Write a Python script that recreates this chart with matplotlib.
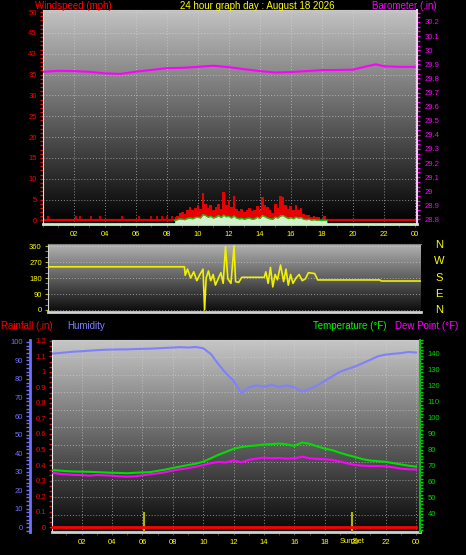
"""
24 hour weather graph: wind, barometer, wind direction, rain, humidity,
temperature and dew point, drawn in the style of a station web page.
"""
import numpy as np
import matplotlib
matplotlib.use("Agg")
import matplotlib.pyplot as plt
from matplotlib.ticker import MultipleLocator, FixedLocator

plt.rcParams['font.family'] = ['Liberation Sans', 'DejaVu Sans']

W, H = 466, 555

TITLE = "24 hour graph day : August 18 2026"
hour_ticks = [2, 4, 6, 8, 10, 12, 14, 16, 18, 20, 22, 24]
hour_labels = ["02", "04", "06", "08", "10", "12", "14", "16", "18", "20", "22", "00"]

# barometer (in)
baro_hours = [0, 1, 2, 3, 4, 5, 6, 7, 8, 9, 10, 11, 12, 13, 14, 15, 16, 17,
              18, 19, 20, 21, 21.5, 22, 23, 24]
baro_inhg = [29.847, 29.854, 29.852, 29.847, 29.836, 29.832, 29.848, 29.860,
             29.873, 29.875, 29.882, 29.890, 29.880, 29.865, 29.852, 29.842,
             29.845, 29.852, 29.859, 29.860, 29.862, 29.888, 29.900, 29.886,
             29.882, 29.882]
baro_ticks = [28.8, 28.9, 29.0, 29.1, 29.2, 29.3, 29.4, 29.5, 29.6, 29.7,
              29.8, 29.9, 30.0, 30.1, 30.2]
baro_labels = ["28.8", "28.9", "29", "29.1", "29.2", "29.3", "29.4", "29.5",
               "29.6", "29.7", "29.8", "29.9", "30", "30.1", "30.2"]

# wind (mph), 10 minute samples from 08:30
gust_mph = [0.8, 1.0, 1.8, 2.0, 1.6, 2.4,
            3.2, 2.4, 3.0, 3.6, 2.8, 6.6,
            4.0, 3.0, 3.6, 2.4, 3.2, 4.0,
            2.8, 6.8, 3.6, 4.8, 3.2, 5.8,
            2.8, 2.2, 2.8, 2.0, 2.6, 3.0,
            2.2, 2.4, 3.4, 2.6, 5.6, 3.8,
            3.2, 2.4, 1.8, 4.0, 3.0, 5.8,
            5.6, 3.6, 2.8, 3.4, 2.4, 3.6,
            2.4, 3.0, 1.6, 1.2, 1.4, 0.8,
            1.0, 0.8, 0.8, 0.4, 1.0, 0.0]
avg_mph = [0.0, 0.2, 0.4, 0.3, 0.2, 0.5,
           0.6, 0.4, 0.7, 0.8, 0.6, 1.4,
           1.2, 0.8, 1.0, 0.6, 0.8, 1.2,
           0.7, 1.3, 0.9, 1.0, 0.6, 1.1,
           0.6, 0.4, 0.5, 0.3, 0.5, 0.6,
           0.3, 0.4, 0.8, 0.5, 1.2, 0.9,
           0.6, 0.4, 0.3, 0.8, 0.6, 1.1,
           1.2, 0.8, 0.5, 0.7, 0.4, 0.8,
           0.6, 0.7, 0.3, 0.2, 0.3, 0.1,
           0.2, 0.1, 0.1, 0.0, 0.1, 0.0]
gust_hours = 8.5 + np.arange(len(gust_mph)) / 6
# single gusts during the calm night/morning
spike_hours = [0.35, 2.15, 2.4, 3.1, 3.7, 5.1, 6.2, 7.0, 7.35, 7.7, 8.0, 8.3]
spike_mph = [1.0, 1.0, 1.0, 1.0, 1.0, 1.0, 1.0, 1.0, 1.0, 1.0, 1.0, 1.0]

# wind direction (deg)
dir_hours = [0.0, 8.80, 8.85, 9.00, 9.20, 9.40, 9.60, 9.80, 10.00, 10.10,
             10.20, 10.35, 10.50, 10.65, 10.80, 11.00, 11.15, 11.30, 11.45,
             11.60, 11.80, 12.00, 12.10, 12.30, 12.50, 13.95, 14.05, 14.20,
             14.35, 14.50, 14.65, 14.80, 15.00, 15.20, 15.35, 15.50, 15.65,
             15.80, 16.00, 16.20, 16.40, 16.60, 16.80, 17.20, 17.40, 21.40,
             21.50, 24.00]
dir_degrees = [243, 243, 195, 230, 180, 215, 165, 200, 230, 0, 180, 220, 165,
               200, 140, 180, 210, 150, 356, 175, 150, 360, 160, 155, 184, 184,
               215, 150, 240, 130, 200, 170, 253, 160, 230, 140, 200, 150, 180,
               200, 165, 175, 210, 205, 169, 169, 163, 163]
compass = ["N", "W", "S", "E", "N"]

# half hourly temperature / dew point (F) and humidity (%)
half_hours = np.arange(49) * 0.5
temp_f = [67.3, 67.0, 66.6, 66.4, 66.3, 66.2, 66.0, 65.8, 65.6, 65.5, 65.3,
          65.6, 65.8, 66.0, 66.8, 67.6, 68.6, 69.5, 70.4, 71.2, 72.5, 74.6,
          76.8, 78.6, 80.5, 81.6, 82.2, 82.6, 83.2, 83.4, 83.8, 83.2, 82.3,
          84.4, 83.6, 82.0, 80.6, 79.6, 78.0, 76.6, 75.4, 74.0, 73.2, 72.8,
          72.4, 71.6, 70.8, 70.0, 69.4]
dew_f = [65.7, 65.0, 64.6, 64.3, 64.2, 63.8, 64.2, 64.0, 63.8, 63.4, 63.2,
         63.4, 64.0, 64.7, 65.2, 66.0, 67.0, 67.8, 68.5, 69.4, 70.4, 71.6,
         72.3, 72.0, 73.4, 72.0, 73.6, 74.4, 75.0, 74.6, 74.8, 74.4, 74.6,
         75.6, 74.6, 74.2, 74.0, 73.6, 72.6, 71.4, 70.4, 70.0, 69.8, 69.8,
         69.6, 69.0, 68.2, 67.8, 67.6]
humidity = [93.7, 94.0, 94.4, 94.8, 95.0, 95.3, 95.6, 95.8, 95.9, 96.0, 96.0,
            96.2, 96.3, 96.4, 96.6, 96.8, 97.0, 97.2, 97.0, 97.3, 96.6, 93.5,
            88.0, 83.0, 79.0, 72.5, 75.5, 76.5, 75.8, 76.8, 75.6, 76.5, 75.5,
            73.2, 74.6, 76.6, 79.0, 81.5, 84.0, 85.4, 86.8, 88.6, 90.4, 92.3,
            93.2, 93.6, 94.0, 94.6, 94.3]

rain_hours = [0, 24]
rain_in = [0.0, 0.0]
sunrise_hour = 6.1
sunset_hour = 19.8

grid_kw = dict(color='#d8d8d8', linestyle=(0, (1, 2)), linewidth=0.7, alpha=0.6)


def px_axes(fig, x0, y0, x1, y1):
    return fig.add_axes([x0 / W, 1 - y1 / H, (x1 - x0) / W, (y1 - y0) / H])


def shade(ax, top, bottom):
    grad = np.linspace(top, bottom, 256).reshape(-1, 1)
    ax.imshow(grad, cmap='gray', vmin=0, vmax=1, aspect='auto',
              extent=(0, 1, 0, 1), transform=ax.transAxes, zorder=0)


def hide_spines(ax, keep=()):
    for name, sp in ax.spines.items():
        sp.set_visible(name in keep)


fig = plt.figure(figsize=(W / 100, H / 100), dpi=100, facecolor='black')

# ---------------------------------------------------------
# Wind speed + barometer
# ---------------------------------------------------------
ax_w = px_axes(fig, 43, 10, 417, 224)
ax_w.set_facecolor('black')
shade(ax_w, 0.76, 0.0)
ax_w.fill_between(gust_hours, 0, gust_mph, step='mid', color='#e80000', lw=0, zorder=2)
ax_w.vlines(spike_hours, 0, spike_mph, color='#e80000', lw=1.2, zorder=2)
ax_w.axhline(0, color='#e00000', lw=1.6, zorder=2)
ax_w.fill_between(gust_hours, -0.84, avg_mph, color='#d4f0cc', lw=0, zorder=3)
ax_w.plot(gust_hours, avg_mph, color='#10c810', lw=1, zorder=4)
ax_w.set_xlim(0, 24.15)
ax_w.set_ylim(-0.84, 50.48)
ax_w.yaxis.set_major_locator(MultipleLocator(5))
ax_w.yaxis.set_minor_locator(MultipleLocator(1))
ax_w.tick_params(axis='y', which='both', colors='#ff0000', labelsize=5.5,
                 length=2.5, width=1.0, pad=2)
ax_w.set_xticks(hour_ticks)
ax_w.set_xticklabels(hour_labels)
ax_w.xaxis.set_minor_locator(MultipleLocator(1))
ax_w.tick_params(axis='x', which='both', colors='#505050', labelcolor='#ffff00',
                 labelsize=5.5, length=2, pad=3)
ax_w.grid(True, which='major', **grid_kw)
hide_spines(ax_w, ('left', 'bottom', 'top'))
ax_w.spines['left'].set_color('#e0e0e0')
ax_w.spines['top'].set_color('#c8c8c8')
ax_w.spines['bottom'].set_color('#c8f0c0')
ax_w.spines['bottom'].set_linewidth(2)

ax_b = ax_w.twinx()
ax_b.plot(baro_hours, baro_inhg, color='#ff00ff', lw=1.5, zorder=5)
ax_b.set_ylim(28.768, 30.285)
ax_b.yaxis.set_major_locator(FixedLocator(baro_ticks))
ax_b.set_yticklabels(baro_labels)
ax_b.yaxis.set_minor_locator(MultipleLocator(0.1 / 3))
ax_b.tick_params(axis='y', which='both', colors='#ff00ff', labelsize=5.5,
                 length=2.5, width=1.0, pad=3)
hide_spines(ax_b, ('right',))
ax_b.spines['right'].set_color('#f4d0f4')
ax_b.spines['right'].set_linewidth(1.5)

fig.text(35 / W, 1 - 1 / H, "Windspeed (mph)", color='#ff0000', fontsize=7,
         ha='left', va='top')
fig.text(257 / W, 1 - 1 / H, TITLE, color='#ffff00', fontsize=7, ha='center', va='top')
fig.text(372 / W, 1 - 1 / H, "Barometer (.in)", color='#ff00ff', fontsize=7,
         ha='left', va='top')

# ---------------------------------------------------------
# Wind direction
# ---------------------------------------------------------
ax_d = px_axes(fig, 48, 244, 421, 312)
ax_d.set_facecolor('black')
shade(ax_d, 0.70, 0.04)
ax_d.plot(dir_hours, dir_degrees, color='#f0f000', lw=1.2, zorder=3)
ax_d.set_xlim(0, 24.06)
ax_d.set_ylim(-11.25, 371.25)
ax_d.set_yticks([0, 90, 180, 270, 360])
ax_d.yaxis.set_minor_locator(MultipleLocator(30))
ax_d.tick_params(axis='y', which='both', colors='#b0b000', labelcolor='#ffff00',
                 labelsize=5.5, length=2.5, pad=2)
ax_d.set_xticks([])
ax_d.grid(True, axis='y', **grid_kw)
hide_spines(ax_d, ('left', 'bottom', 'top'))
ax_d.spines['left'].set_color('#d8d8d8')
ax_d.spines['top'].set_color('#808080')
ax_d.spines['bottom'].set_color('#d0d0d0')
ax_d.spines['bottom'].set_linewidth(2)

for i, letter in enumerate(compass):
    y_px = 245 + i * 16.3
    fig.text(439 / W, 1 - y_px / H, letter, color='#ffff00', fontsize=8,
             ha='center', va='center')

# ---------------------------------------------------------
# Rain, humidity, temperature, dew point
# ---------------------------------------------------------
ax_r = px_axes(fig, 52, 340, 420, 532)
ax_r.set_facecolor('black')
shade(ax_r, 0.78, 0.03)
ax_r.set_xlim(0.05, 24.26)
ax_r.set_ylim(-0.032, 1.206)
for k in range(1, 11):
    ax_r.plot([0, 1], [k / 11, k / 11], transform=ax_r.transAxes, zorder=1, **grid_kw)
ax_r.vlines([sunrise_hour, sunset_hour], -0.032, 0.1, color='#b4b400', lw=1.5, zorder=3)
ax_r.plot(rain_hours, rain_in, color='#ff0000', lw=2, zorder=4)
ax_r.yaxis.set_major_locator(MultipleLocator(0.1))
ax_r.yaxis.set_major_formatter(lambda v, pos: f"{v:.1f}".rstrip('0').rstrip('.') if v > 0.001 else "0")
ax_r.yaxis.set_minor_locator(MultipleLocator(0.1 / 3))
ax_r.tick_params(axis='y', which='both', colors='#ff0000', labelsize=5.5,
                 length=2.5, width=1.0, pad=2)
ax_r.set_xticks(hour_ticks)
ax_r.set_xticklabels(hour_labels)
ax_r.xaxis.set_minor_locator(MultipleLocator(1))
ax_r.tick_params(axis='x', which='both', colors='#505050', labelcolor='#ffff00',
                 labelsize=5.5, length=2, pad=3)
ax_r.grid(True, axis='x', **grid_kw)
hide_spines(ax_r, ('left', 'bottom', 'top'))
ax_r.spines['left'].set_color('#f0f0f0')
ax_r.spines['top'].set_color('#c8c8c8')
ax_r.spines['bottom'].set_color('#d0d0d0')
ax_r.spines['bottom'].set_linewidth(2)
ax_r.text(sunset_hour, -0.052, "SunSet", transform=ax_r.get_xaxis_transform(),
          color='#ffff00', fontsize=5.5, ha='center', va='center')

ax_h = ax_r.twinx()
ax_h.plot(half_hours, humidity, color='#8080ff', lw=1.5, zorder=3)
ax_h.set_ylim(-2.7, 101.08)
ax_h.yaxis.set_ticks_position('left')
ax_h.yaxis.set_label_position('left')
hide_spines(ax_h, ('left',))
ax_h.spines['left'].set_position(('outward', 16))
ax_h.spines['left'].set_color('#7070ff')
ax_h.spines['left'].set_linewidth(2)
ax_h.yaxis.set_major_locator(MultipleLocator(10))
ax_h.yaxis.set_minor_locator(MultipleLocator(2))
ax_h.tick_params(axis='y', which='both', colors='#7070ff', labelsize=5.5,
                 length=3, width=1.0, pad=2)

ax_t = ax_r.twinx()
ax_t.plot(half_hours, temp_f, color='#00e000', lw=1.5, zorder=4)
ax_t.plot(half_hours, dew_f, color='#ff00ff', lw=1.5, zorder=4)
ax_t.set_ylim(28.8, 148.1)
ax_t.yaxis.set_major_locator(FixedLocator([40, 50, 60, 70, 80, 90, 100, 110, 120, 130, 140]))
ax_t.yaxis.set_minor_locator(MultipleLocator(2))
ax_t.tick_params(axis='y', which='both', colors='#00d000', labelsize=5.5,
                 length=2.5, width=1.0, pad=3)
hide_spines(ax_t, ('right',))
ax_t.spines['right'].set_color('#00c000')
ax_t.spines['right'].set_linewidth(1.5)

fig.text(1 / W, 1 - 321 / H, "Rainfall (.in)", color='#ff0000', fontsize=7,
         ha='left', va='top')
fig.text(67 / W, 1 - 321 / H, "Humidity", color='#8080ff', fontsize=7,
         ha='left', va='top')
fig.text(313 / W, 1 - 321 / H, "Temperature (°F)", color='#00ff00', fontsize=7,
         ha='left', va='top')
fig.text(395 / W, 1 - 321 / H, "Dew Point (°F)", color='#ff00ff', fontsize=7,
         ha='left', va='top')

fig.savefig("out.png", dpi=100, facecolor='black')
